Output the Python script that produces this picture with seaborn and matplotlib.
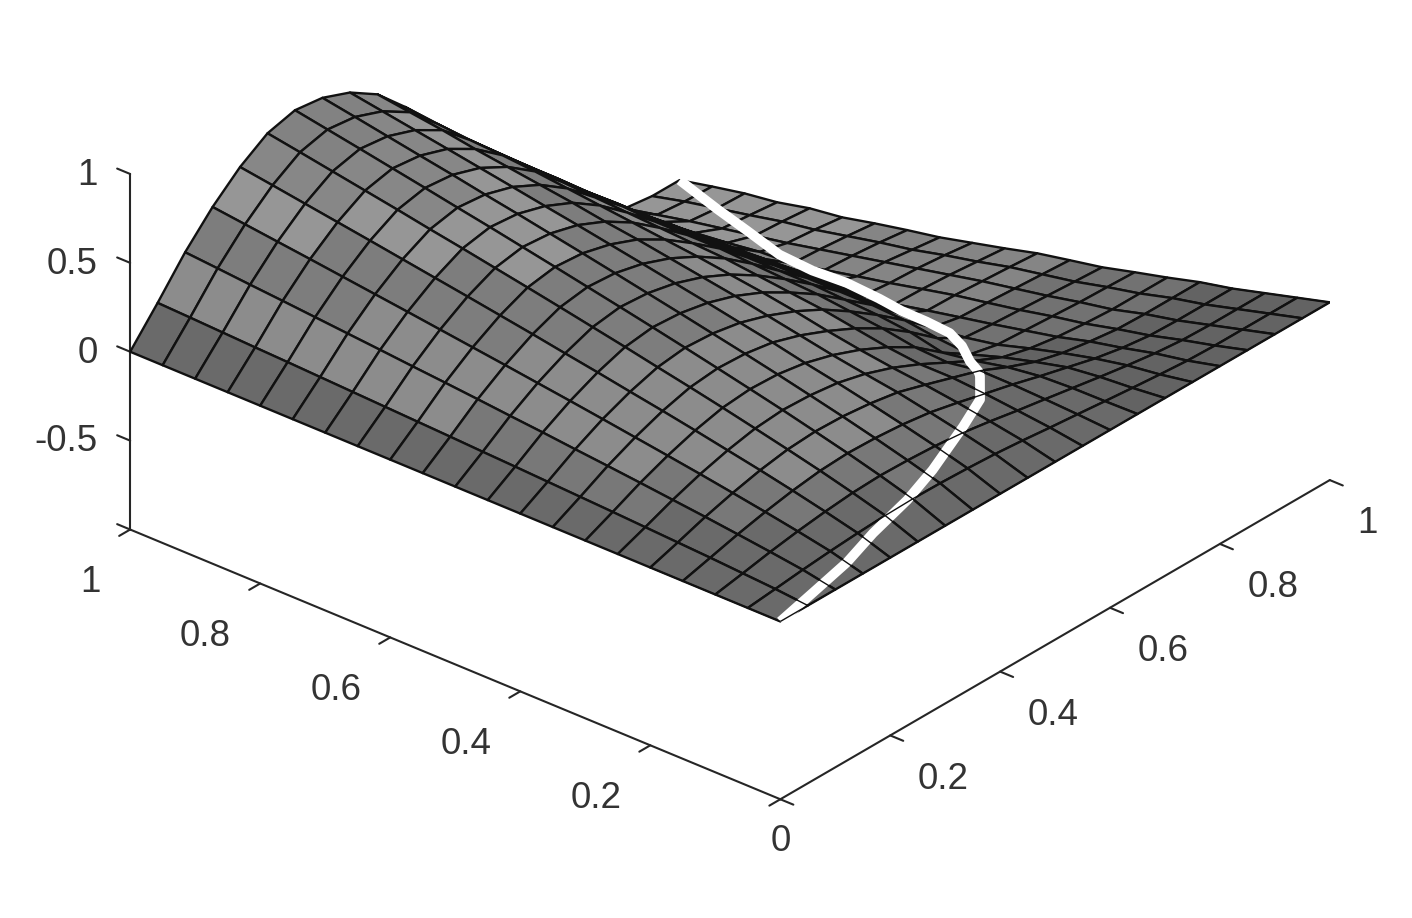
import numpy as np
import matplotlib
matplotlib.use('Agg')
import matplotlib.pyplot as plt
from matplotlib.colors import BoundaryNorm, ListedColormap
import seaborn as sns

# grid
x_vals = [0, .05, .10, .15, .20, .25, .30, .35, .40, .45, .50, .55, .60, .65, .70, .75, .80, .85, .90, .95, 1]
y_vals = [0, .05, .10, .15, .20, .25, .30, .35, .40, .45, .50, .55, .60, .65, .70, .75, .80, .85, .90, .95, 1]

# heights, one row per y value
z_rows = [
    [0] * 21,
    [0, .017, .035, .050, .062, .071, .075, .073, .067, .058, .044, .027, .012, -.004, -.019, -.033, -.045, -.05, -.05, -.05, -.05],
    [0, .029, .060, .086, .107, .123, .130, .126, .117, .101, .076, .047, .021, -.006, -.033, -.058, -.080, -.095, -.10, -.10, -.10],
    [0, .041, .083, .119, .149, .171, .180, .175, .162, .140, .105, .066, .028, -.015, -.055, -.095, -.125, -.145, -.15, -.15, -.15],
    [0, .051, .105, .150, .188, .215, .226, .221, .204, .177, .130, .080, .030, -.040, -.100, -.140, -.165, -.185, -.19, -.19, -.19],
    [0, .061, .125, .180, .224, .257, .271, .264, .244, .205, .150, .080, 0, -.080, -.150, -.190, -.215, -.230, -.24, -.24, -.24],
    [0, .071, .145, .208, .260, .298, .313, .306, .280, .235, .175, .100, .010, -.110, -.210, -.245, -.255, -.265, -.275, -.28, -.286],
    [0, .080, .164, .235, .294, .337, .354, .346, .320, .270, .205, .130, .040, -.070, -.195, -.280, -.295, -.305, -.315, -.325, -.334],
    [0, .089, .182, .262, .326, .374, .394, .384, .355, .305, .240, .160, .060, -.050, -.170, -.300, -.332, -.340, -.350, -.36, -.37],
    [0, .098, .201, .288, .359, .412, .433, .422, .391, .340, .270, .180, .080, -.040, -.160, -.300, -.370, -.374, -.385, -.395, -.407],
    [0, .106, .218, .313, .390, .448, .471, .459, .425, .370, .295, .200, .090, -.030, -.160, -.300, -.410, -.415, -.425, -.44, -.455],
    [0, .115, .236, .338, .422, .484, .508, .496, .459, .400, .320, .220, .100, -.030, -.160, -.300, -.440, -.457, -.465, -.48, -.50],
    [0, .123, .253, .362, .452, .519, .545, .532, .492, .430, .340, .230, .110, -.030, -.165, -.300, -.440, -.495, -.505, -.525, -.545],
    [0, .131, .269, .386, .482, .553, .581, .567, .525, .455, .360, .240, .110, -.030, -.170, -.310, -.450, -.535, -.545, -.56, -.58],
    [0, .139, .286, .410, .511, .587, .617, .602, .556, .485, .380, .250, .110, -.030, -.175, -.320, -.460, -.575, -.585, -.60, -.618],
    [0, .147, .302, .433, .540, .619, .651, .635, .588, .510, .400, .260, .120, -.030, -.180, -.325, -.470, -.585, -.625, -.64, -.66],
    [0, .155, .318, .456, .569, .653, .686, .670, .619, .535, .420, .270, .120, -.030, -.185, -.330, -.480, -.610, -.660, -.67, -.685],
    [0, .162, .334, .479, .597, .685, .720, .702, .650, .560, .435, .280, .125, -.035, -.190, -.340, -.490, -.630, -.695, -.71, -.727],
    [0, .170, .349, .501, .625, .717, .754, .735, .680, .590, .445, .285, .125, -.037, -.195, -.345, -.500, -.645, -.730, -.747, -.753],
    [0, .178, .365, .523, .653, .749, .787, .768, .710, .615, .460, .290, .125, -.038, -.200, -.355, -.515, -.660, -.770, -.785, -.79],
    [0, .185, .38, .545, .68, .78, .82, .80, .74, .64, .48, .30, .13, -.04, -.21, -.365, -.53, -.68, -.81, -.83, -.83],
]

# white curve on the surface
curve_x = [0, .072, .157, .222, .302, .36, .451, .541, .60, .68, .70, .733, .758, .775, .789, .808, .831, .845, .868, .91, .949, 1]
curve_y = [0, .01, .03, .045, .06, .07, .10, .15, .20, .27, .30, .34, .38, .43, .48, .53, .60, .665, .735, .82, .90, 1]
curve_z = [0, .02, .006, .03, .05, .10, .135, .05, 0, -.224, -.249, -.282, -.315, -.357, -.398, -.44, -.498, -.552, -.61, -.68, -.747, -.83]

# grey bands
band_edges = [-1, -.6, -.35, -.18, 0, .10, .18, .37, .54, .65, .75, 1]
band_greys = ['#969696', '#858585', '#727272', '#636363', '#6a6a6a', '#787878', '#8c8c8c', '#7d7d7d', '#969696', '#878787', '#828282']

x_ticks = [0, .2, .4, .6, .8, 1]
x_labels = ['', '0.2', '0.4', '0.6', '0.8', '1']
y_ticks = [0, .2, .4, .6, .8, 1]
y_labels = ['', '0.2', '0.4', '0.6', '0.8', '1']
z_ticks = [-1, -.5, 0, .5, 1]
z_labels = ['', '-0.5', '0', '0.5', '1']

sns.set_theme(style='white')
plt.rcParams['font.family'] = ['Liberation Sans', 'DejaVu Sans']

X, Y = np.meshgrid(x_vals, y_vals)
Z = np.array(z_rows)

fig = plt.figure(figsize=(14.12, 9.18), dpi=100)
ax = fig.add_axes([96.3 / 1412, -42.7 / 918, 1234 / 1412, 1234 / 918],
                  projection='3d', proj_type='ortho', computed_zorder=False)
ax.patch.set_alpha(0)
ax.view_init(elev=29.4, azim=-139.8)
ax.set_box_aspect((851, 851, 408))

cmap = ListedColormap(sns.color_palette(band_greys))
norm = BoundaryNorm(band_edges, len(band_greys))
ax.plot_surface(X, Y, Z, rstride=1, cstride=1, cmap=cmap, norm=norm, shade=False,
                edgecolor='#111111', linewidth=1.7, antialiased=True, zorder=2)
ax.plot(curve_x, curve_y, curve_z, color='white', lw=7, zorder=3, solid_capstyle='butt')
# grid shows through the lower half of the white curve
ax.plot_wireframe(X[:5], Y[:5], Z[:5], rstride=1, cstride=1, color='#111111', lw=1.0, zorder=4)

ax.set_xlim(0, 1, view_margin=0)
ax.set_ylim(0, 1, view_margin=0)
ax.set_zlim(-1, 1, view_margin=0)
ax.set_xticks(x_ticks, x_labels)
ax.set_yticks(y_ticks, y_labels)
ax.set_zticks(z_ticks, z_labels)
ax.grid(False)
for axis in (ax.xaxis, ax.yaxis, ax.zaxis):
    axis.set_pane_color((1, 1, 1, 0))
    axis.pane.set_edgecolor((1, 1, 1, 0))
    axis.line.set_color('#262626')
    axis.line.set_linewidth(1.5)
    axis._axinfo['tick']['inward_factor'] = .25
    axis._axinfo['tick']['outward_factor'] = 0
    axis._axinfo['tick']['linewidth'] = {True: 1.5, False: 1.0}
# z ticks point along y in the picture
ax.zaxis._get_tickdir = lambda position: 1
ax.zaxis._axinfo['tick']['inward_factor'] = 0
ax.zaxis._axinfo['tick']['outward_factor'] = .25

ax.tick_params(labelsize=26.5, labelcolor='#333333', color='#262626')
ax.tick_params(axis='x', pad=11.5)
ax.tick_params(axis='y', pad=16.5)
ax.tick_params(axis='z', pad=4.6)
for label in ax.get_xticklabels():
    label.set(ha='left', va='top')
for label in ax.get_yticklabels():
    label.set(ha='right', va='top')
for label in ax.get_zticklabels():
    label.set(ha='right', va='center')
# shared "0" under the front corner
ax.text(0, 0, -1.236, '0', ha='center', va='center', fontsize=26.5, color='#333333')

fig.savefig('out.png', dpi=100)
